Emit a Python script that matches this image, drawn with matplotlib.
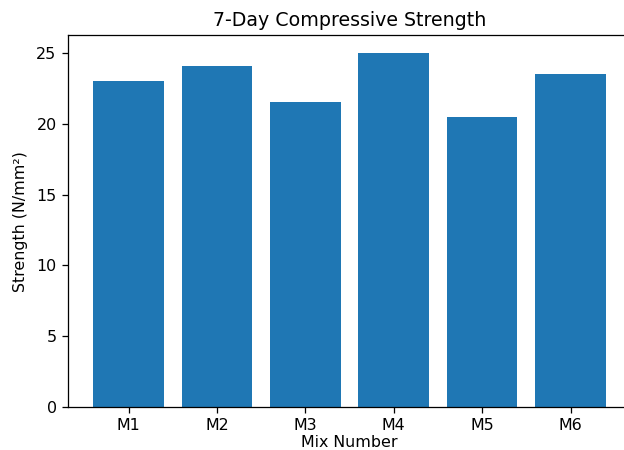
import matplotlib
matplotlib.use("Agg")
from matplotlib import pyplot as plt

mixes = ["M1", "M2", "M3", "M4", "M5", "M6"]
strength = [23.05, 24.1, 21.55, 25.0, 20.5, 23.55]

dpi = 114
fig, ax = plt.subplots(figsize=(624 / dpi, 450 / dpi), dpi=dpi)
ax.bar(mixes, strength)
ax.set_title("7-Day Compressive Strength")
ax.set_xlabel("Mix Number", labelpad=1)
ax.set_ylabel("Strength (N/mm²)", labelpad=5)
# axes runs a bit past the right edge in the original (cropped)
plt.subplots_adjust(left=0.1085, right=1.012, bottom=0.0956, top=0.9216)
plt.savefig("out.png", dpi=dpi)
